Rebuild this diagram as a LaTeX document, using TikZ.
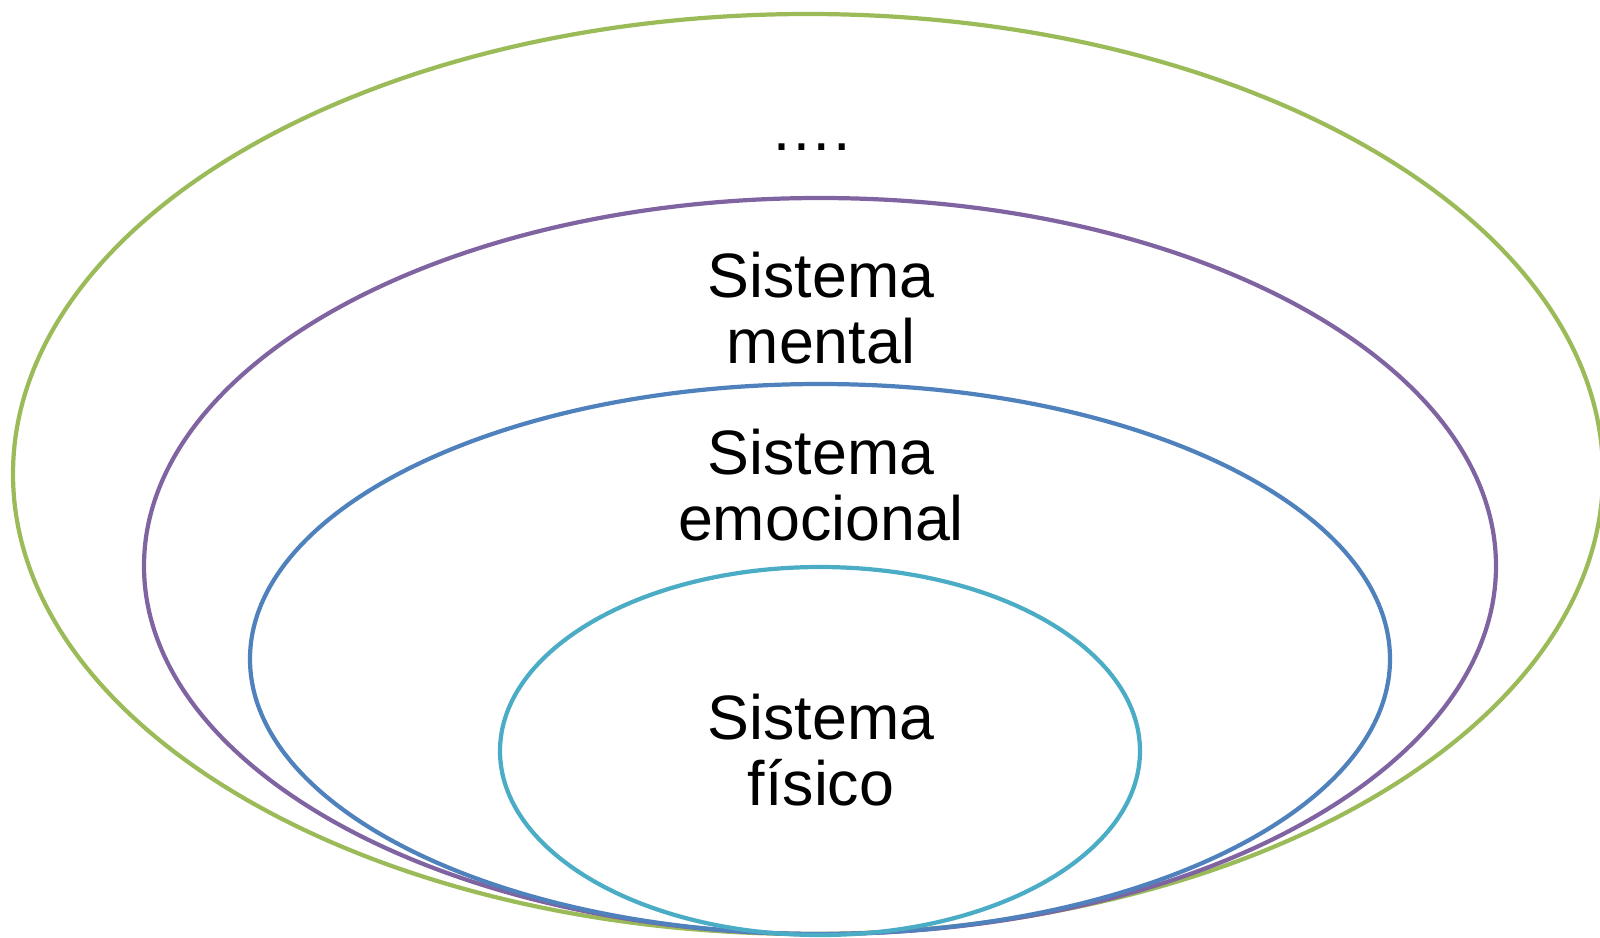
\documentclass[tikz,border=0pt]{standalone}
\usepackage{fontspec}
\setmainfont{Liberation Sans}
\definecolor{ringgreen}{HTML}{9BBB59}
\definecolor{ringpurple}{HTML}{8064A2}
\definecolor{ringblue}{HTML}{4F81BD}
\definecolor{ringcyan}{HTML}{4BACC6}
\begin{document}
\begin{tikzpicture}[x=0.02cm,y=-0.02cm,
  ring/.style={line width=2.4pt},
  lbl/.style={align=center,inner sep=0pt,font=\fontsize{35.7}{37.4}\selectfont}]
\useasboundingbox (0,0) rectangle (1600,937);
% nested systems, outermost first
\draw[ring,ringgreen]  (808,474) ellipse [x radius=795, y radius=460];
\draw[ring,ringpurple] (820,566) ellipse [x radius=676, y radius=368];
\draw[ring,ringblue]   (820,659) ellipse [x radius=570, y radius=275];
\draw[ring,ringcyan]   (820,751) ellipse [x radius=320, y radius=184];
% labels
\node[lbl,anchor=base] (dots) at (811,150) {….};
\node[lbl] (mental) at (821,308) {Sistema\\mental};
\node[lbl] (emocional) at (821,485) {Sistema\\emocional};
\node[lbl] (fisico) at (821,750) {Sistema\\físico};
\end{tikzpicture}
\end{document}
